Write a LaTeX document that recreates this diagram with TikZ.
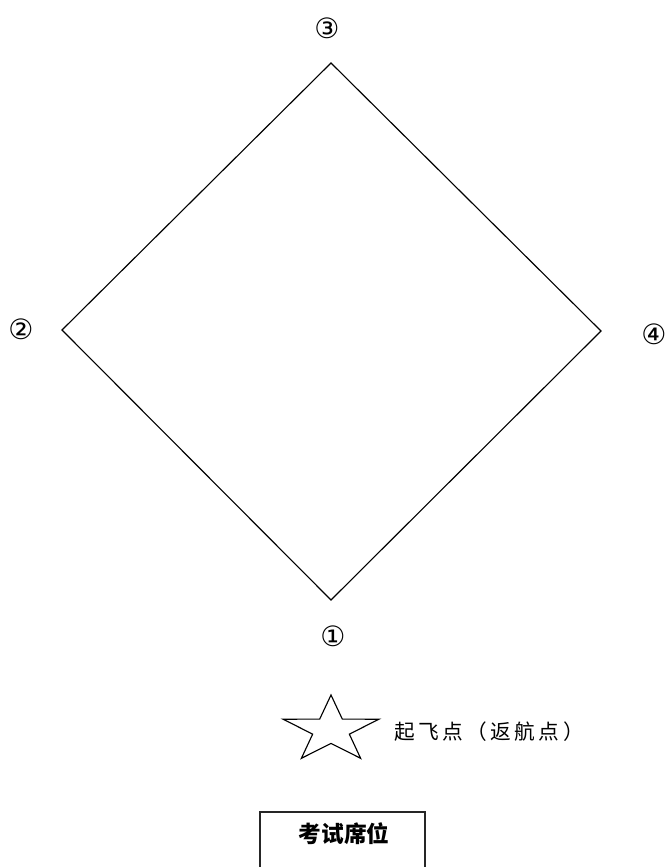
\documentclass[tikz,border=0pt]{standalone}
\usepackage{fontspec}
\newfontfamily\cjk{Noto Sans CJK SC}
\newfontfamily\dv{DejaVu Sans}
\begin{document}
\begin{tikzpicture}[x=0.75pt,y=-0.75pt,
  edge/.style={draw=black,line width=0.85pt,line join=miter},
  num/.style={font=\dv\fontsize{21}{21}\selectfont,inner sep=0pt},
  lbl/.style={font=\cjk\fontsize{15.5}{16}\selectfont,inner sep=0pt},
  seat/.style={font=\cjk\bfseries\fontsize{17}{18}\selectfont,inner sep=0pt}]
\useasboundingbox (0,0) rectangle (665,867);
\clip (0,0) rectangle (665,867);
% diamond corners
\coordinate (p3) at (331,63);
\coordinate (p2) at (62,330);
\coordinate (p4) at (601,331);
\coordinate (p1) at (331,600);
\draw[edge] (p3) -- (p4) -- (p1) -- (p2) -- cycle;
% labels
\node[num] (n3) at (327,28) {③};
\node[num] (n2) at (21,329) {②};
\node[num] (n4) at (654,334) {④};
\node[num] (n1) at (333,636) {①};
% star
\draw[line width=0.85pt,shift={(331,730)},xscale=1.44,yscale=-1]
  (90:35) -- (126:13.4) -- (162:35) -- (198:13.4) -- (234:35) -- (270:13.4)
  -- (306:35) -- (342:13.4) -- (18:35) -- (54:13.4) -- cycle;
\node[lbl,anchor=west] (start) at (394,732) {起\,飞\,点\,（\,返\,航\,点\,）};
% seat box
\draw[line width=1.5pt,draw=black!85] (260,900) -- (260,812) -- (425,812) -- (425,900);
\node[seat] (seat) at (344,834) {考试席位};
\end{tikzpicture}
\end{document}
